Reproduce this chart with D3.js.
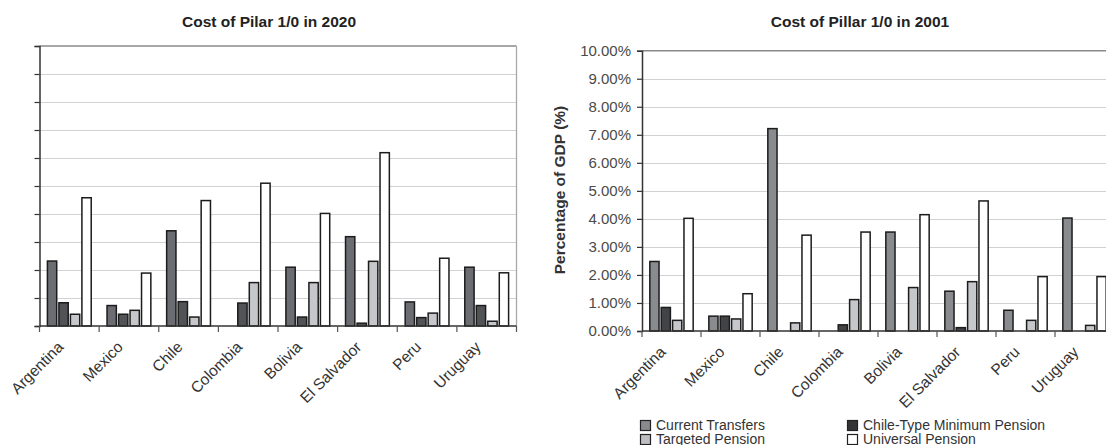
<!DOCTYPE html>
<html>
<head>
<meta charset="utf-8">
<script src="https://cdn.jsdelivr.net/npm/d3@7"></script>
<style>
  html, body { margin: 0; padding: 0; background: #fff; overflow: hidden; }
  svg { display: block; font-family: "Liberation Sans", Arial, sans-serif; }
</style>
</head>
<body>
<svg id="chart" width="1106" height="445"></svg>
<script>
const categories = ["Argentina", "Mexico", "Chile", "Colombia", "Bolivia", "El Salvador", "Peru", "Uruguay"];
const seriesNames = ["Current Transfers", "Chile-Type Minimum Pension", "Targeted Pension", "Universal Pension"];
const yTicks = [0, 1, 2, 3, 4, 5, 6, 7, 8, 9, 10];

// 2020 (% of GDP)
const ct2020  = [2.32, 0.73, 3.40, 0.00, 2.10, 3.19, 0.86, 2.10];
const cmp2020 = [0.83, 0.42, 0.87, 0.82, 0.32, 0.10, 0.30, 0.73];
const tp2020  = [0.42, 0.56, 0.32, 1.55, 1.55, 2.31, 0.46, 0.17];
const up2020  = [4.58, 1.89, 4.48, 5.10, 4.02, 6.19, 2.42, 1.90];

// 2001 (% of GDP)
const ct2001  = [2.48, 0.53, 7.22, 0.00, 3.53, 1.42, 0.74, 4.03];
const cmp2001 = [0.84, 0.53, 0.00, 0.22, 0.00, 0.12, 0.00, 0.00];
const tp2001  = [0.38, 0.43, 0.29, 1.12, 1.55, 1.76, 0.38, 0.20];
const up2001  = [4.02, 1.33, 3.42, 3.53, 4.15, 4.64, 1.94, 1.94];

const svg = d3.select("#chart");

function drawPanel(cfg) {
  const g = svg.append("g");
  const x0 = d3.scaleBand().domain(categories).range([cfg.left, cfg.right]).paddingInner(0.24).paddingOuter(0.12);
  const x1 = d3.scaleBand().domain(seriesNames).range([0, x0.bandwidth()]).paddingInner(0.06);
  const y = d3.scaleLinear().domain([0, 10]).range([cfg.bottom, cfg.top]);

  // gridlines
  g.append("g").selectAll("line").data(yTicks.slice(1, -1)).join("line")
    .attr("x1", cfg.left).attr("x2", cfg.right)
    .attr("y1", d => Math.round(y(d)) + 0.5).attr("y2", d => Math.round(y(d)) + 0.5)
    .attr("stroke", "#d2d2d6").attr("stroke-width", 1.2);

  // top border & right border
  g.append("line").attr("x1", cfg.left).attr("x2", cfg.right)
    .attr("y1", y(10)).attr("y2", y(10)).attr("stroke", "#8a8a8a").attr("stroke-width", 1.5);
  g.append("line").attr("x1", cfg.right).attr("x2", cfg.right)
    .attr("y1", y(10)).attr("y2", y(0)).attr("stroke", "#a8a8a8").attr("stroke-width", 1.3);

  // bars
  const series = cfg.series;
  categories.forEach((c, i) => {
    seriesNames.forEach((s, j) => {
      const v = series[j][i];
      if (v <= 0) return;
      g.append("rect")
        .attr("x", x0(c) + x1(s) + 0.75)
        .attr("y", y(v))
        .attr("width", x1.bandwidth() - 1.5)
        .attr("height", y(0) - y(v))
        .attr("fill", cfg.colors[j])
        .attr("stroke", "#1c1c1c").attr("stroke-width", 1.5);
    });
  });

  // y axis
  const yAxis = d3.axisLeft(y).tickValues(yTicks).tickSize(5).tickPadding(6)
    .tickFormat(cfg.showYLabels ? (d => d.toFixed(2) + "%") : (() => ""));
  const ya = g.append("g").attr("transform", `translate(${cfg.left},0)`).call(yAxis);
  ya.select(".domain").attr("stroke", "#333").attr("stroke-width", 1.5);
  ya.selectAll(".tick line").attr("stroke", "#333").attr("stroke-width", 1.2);
  ya.selectAll(".tick text").attr("fill", "#4a4a4a").attr("font-size", "15px")
    .style("font-family", "'Liberation Sans', Arial, sans-serif");

  // x axis line
  g.append("line").attr("x1", cfg.left).attr("x2", cfg.right)
    .attr("y1", y(0)).attr("y2", y(0)).attr("stroke", "#333").attr("stroke-width", 1.5);
  // x boundary ticks
  const bounds = categories.map(c => x0(c) - x0.step() * x0.paddingInner() / 2).concat([cfg.right]);
  g.append("g").selectAll("line").data(bounds).join("line")
    .attr("x1", d => d).attr("x2", d => d)
    .attr("y1", y(0)).attr("y2", y(0) + 6)
    .attr("stroke", "#555").attr("stroke-width", 1.2);

  // category labels
  g.append("g").selectAll("text").data(categories).join("text")
    .attr("transform", c => `translate(${x0(c) + x0.bandwidth() / 2 - 5},${y(0) + 22}) rotate(-45)`)
    .attr("text-anchor", "end")
    .attr("font-size", "15.5px")
    .attr("fill", "#333")
    .text(c => c);

  // title
  g.append("text").attr("x", cfg.titleX).attr("y", 27)
    .attr("text-anchor", "middle").attr("font-weight", "bold")
    .attr("font-size", "15.5px").attr("fill", "#222")
    .text(cfg.title);

  return { x0, y };
}

drawPanel({
  left: 39.5, right: 516.5, top: 46, bottom: 326,
  series: [ct2020, cmp2020, tp2020, up2020],
  colors: ["#6b6d72", "#515357", "#c6c7cb", "#ffffff"],
  showYLabels: false,
  title: "Cost of Pilar 1/0 in 2020", titleX: 269
});

drawPanel({
  left: 642, right: 1114, top: 50.7, bottom: 331,
  series: [ct2001, cmp2001, tp2001, up2001],
  colors: ["#898b8f", "#414347", "#c6c7cb", "#ffffff"],
  showYLabels: true,
  title: "Cost of Pillar 1/0 in 2001", titleX: 860
});

// y-axis title (right panel)
svg.append("text")
  .attr("transform", "translate(565,190) rotate(-90)")
  .attr("text-anchor", "middle").attr("font-weight", "bold")
  .attr("font-size", "15.5px").attr("fill", "#333")
  .text("Percentage of GDP (%)");

// legend: CT (col1,row1), CMP (col2,row1), TP (col1,row2), UP (col2,row2)
const legendColors = ["#8a8a8e", "#333336", "#bdbec2", "#ffffff"];
const legendPos = [[640, 420], [847, 420], [640, 434], [847, 434]];
const lg = svg.append("g");
seriesNames.forEach((s, j) => {
  const [lx, ly] = legendPos[j];
  lg.append("rect").attr("x", lx + 0.5).attr("y", ly + 0.5).attr("width", 10).attr("height", 10)
    .attr("fill", legendColors[j]).attr("stroke", "#222").attr("stroke-width", 1.2);
  lg.append("text").attr("x", lx + 16).attr("y", ly + 10)
    .attr("font-size", "14px").attr("fill", "#333").text(s);
});
</script>
</body>
</html>
